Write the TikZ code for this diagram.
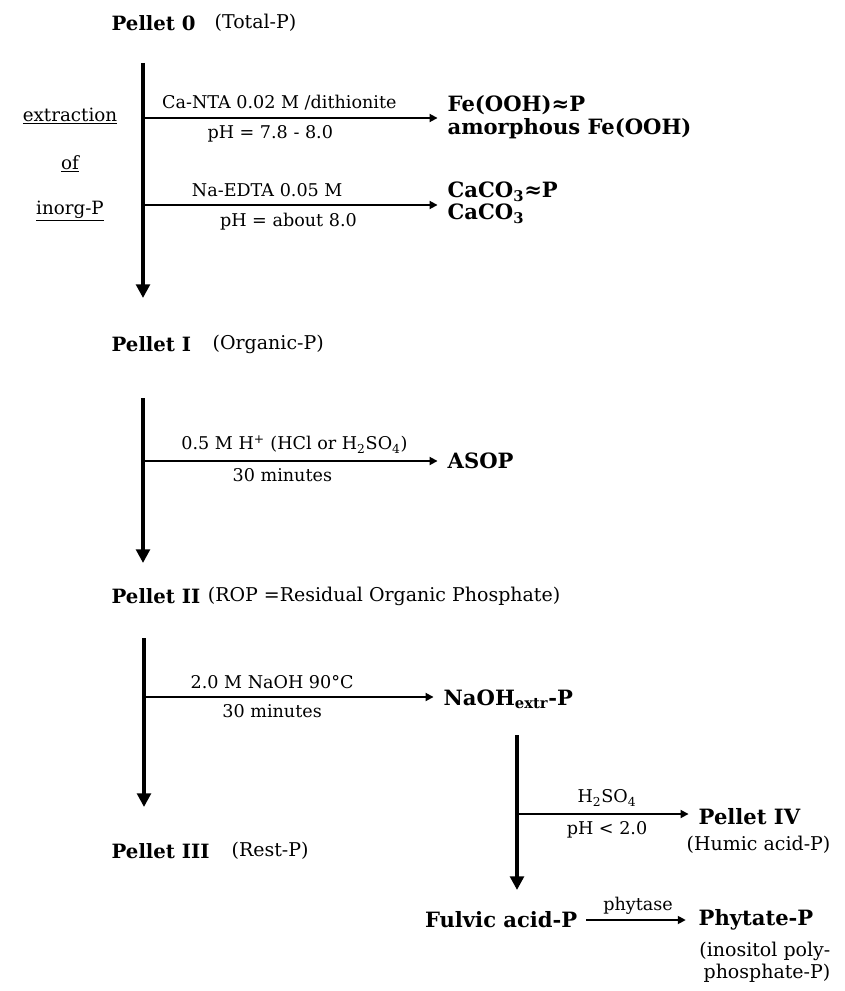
\documentclass[tikz,border=0pt]{standalone}
\usepackage{fontspec}
\setmainfont{DejaVu Serif}
\usepackage{tikz}
\usetikzlibrary{positioning,arrows.meta,calc}
\tikzset{
    pellet/.style={anchor=west,font=\fontsize{14}{16}\selectfont\bfseries,inner sep=1pt},
    note/.style={anchor=west,font=\fontsize{13.5}{15.5}\selectfont,inner sep=1pt},
    cond/.style={font=\fontsize{12.5}{14}\selectfont,inner sep=1pt},
    prod/.style={anchor=west,font=\fontsize{15}{16}\selectfont\bfseries,align=left,inner sep=1pt},
    under/.style={font=\fontsize{13}{15}\selectfont,inner sep=1pt},
    flow/.style={line width=1mm,-{Triangle[length=3.4mm,width=3.4mm]}},
    side/.style={line width=0.45mm,-{Triangle[length=2mm,width=2mm]},shorten >=6pt},
}
\begin{document}
\begin{tikzpicture}[x=0.025cm,y=-0.025cm]
\useasboundingbox (0,0) rectangle (844,991);
% Pellet 0: inorganic P
\node[pellet] (p0)    at (110,23)  {Pellet 0};
\node[note]   (p0txt) at (213,23)  {(Total-P)};
\node[under]  (ext)   at (70,116)  {\underline{extraction}};
\node[under]  (of)    at (70,164)  {\underline{of}};
\node[under]  (inorg) at (70,211)  {\underline{inorg-P}};
\coordinate (v0top) at (143,63);
\coordinate (v0end) at (143,298);
\draw[flow] (v0top) -- (v0end);
\coordinate (a1) at (143,118);
\coordinate (a2) at (143,205);
\node[prod] (fe)   at (446,117) {Fe(OOH)≈P\\amorphous Fe(OOH)};
\node[prod] (caco) at (446,203) {CaCO\textsubscript{3}≈P\\CaCO\textsubscript{3}};
\draw[side] (a1) -- node[cond,above=4pt,pos=.45] (nta) {Ca-NTA 0.02 M /dithionite}
                    node[cond,below=4pt,pos=.42] (ph1) {pH = 7.8 - 8.0} (fe.west |- a1);
\draw[side] (a2) -- node[cond,above=4pt,pos=.41] (edta) {Na-EDTA 0.05 M}
                    node[cond,below=4pt,pos=.48] (ph2) {pH = about 8.0} (caco.west |- a2);

% Pellet I: acid soluble organic P
\node[pellet] (p1)    at (110,344) {Pellet I};
\node[note]   (p1txt) at (211,344) {(Organic-P)};
\coordinate (v1top) at (143,398);
\coordinate (v1end) at (143,563);
\draw[flow] (v1top) -- (v1end);
\coordinate (a3) at (143,461);
\node[prod] (asop) at (446,461) {ASOP};
\draw[side] (a3) -- node[cond,above=4pt,pos=.5] (acid) {0.5 M H\textsuperscript{+} (HCl or H\textsubscript{2}SO\textsubscript{4})}
                    node[cond,below=4pt,pos=.46] (t1) {30 minutes} (asop.west |- a3);

% Pellet II: residual organic P
\node[pellet] (p2) at (110,596) {Pellet II};
\node[note] (p2txt) [right=3pt of p2] {(ROP =Residual Organic Phosphate)};
\coordinate (v2top) at (144,638);
\coordinate (v2end) at (144,807);
\draw[flow] (v2top) -- (v2end);
\coordinate (a4) at (144,697);
\node[prod] (naoh) at (442,699) {NaOH\textsubscript{extr}-P};
\draw[side] (a4) -- node[cond,above=4pt,pos=.43] (base) {2.0 M NaOH 90°C}
                    node[cond,below=4pt,pos=.43] (t2) {30 minutes} (naoh.west |- a4);

\node[pellet] (p3)    at (110,851) {Pellet III};
\node[note]   (p3txt) at (230,851) {(Rest-P)};

% NaOH extract: humic / fulvic split
\coordinate (v3top) at (517,735);
\coordinate (v3end) at (517,890);
\draw[flow] (v3top) -- (v3end);
\coordinate (a5) at (517,814);
\node[prod] (p4)    at (697,817) {Pellet IV};
\node[note] (p4txt) at (685,845) {(Humic acid-P)};
\draw[side] (a5) -- node[cond,above=4pt] (h2so4) {H\textsubscript{2}SO\textsubscript{4}}
                    node[cond,below=4pt] (ph3) {pH < 2.0} (p4.west |- a5);
\node[prod,anchor=east] (fulvic)  at (579,920) {Fulvic acid-P};
\node[prod]             (phytate) at (697,920) {Phytate-P};
\draw[side,shorten <=5pt,shorten >=8pt] (fulvic) -- node[cond,above=2pt] (phy) {phytase} (phytate);
\node[note,align=right,anchor=east] (inos) at (832,962) {(inositol poly-\\phosphate-P)};
\end{tikzpicture}
\end{document}
